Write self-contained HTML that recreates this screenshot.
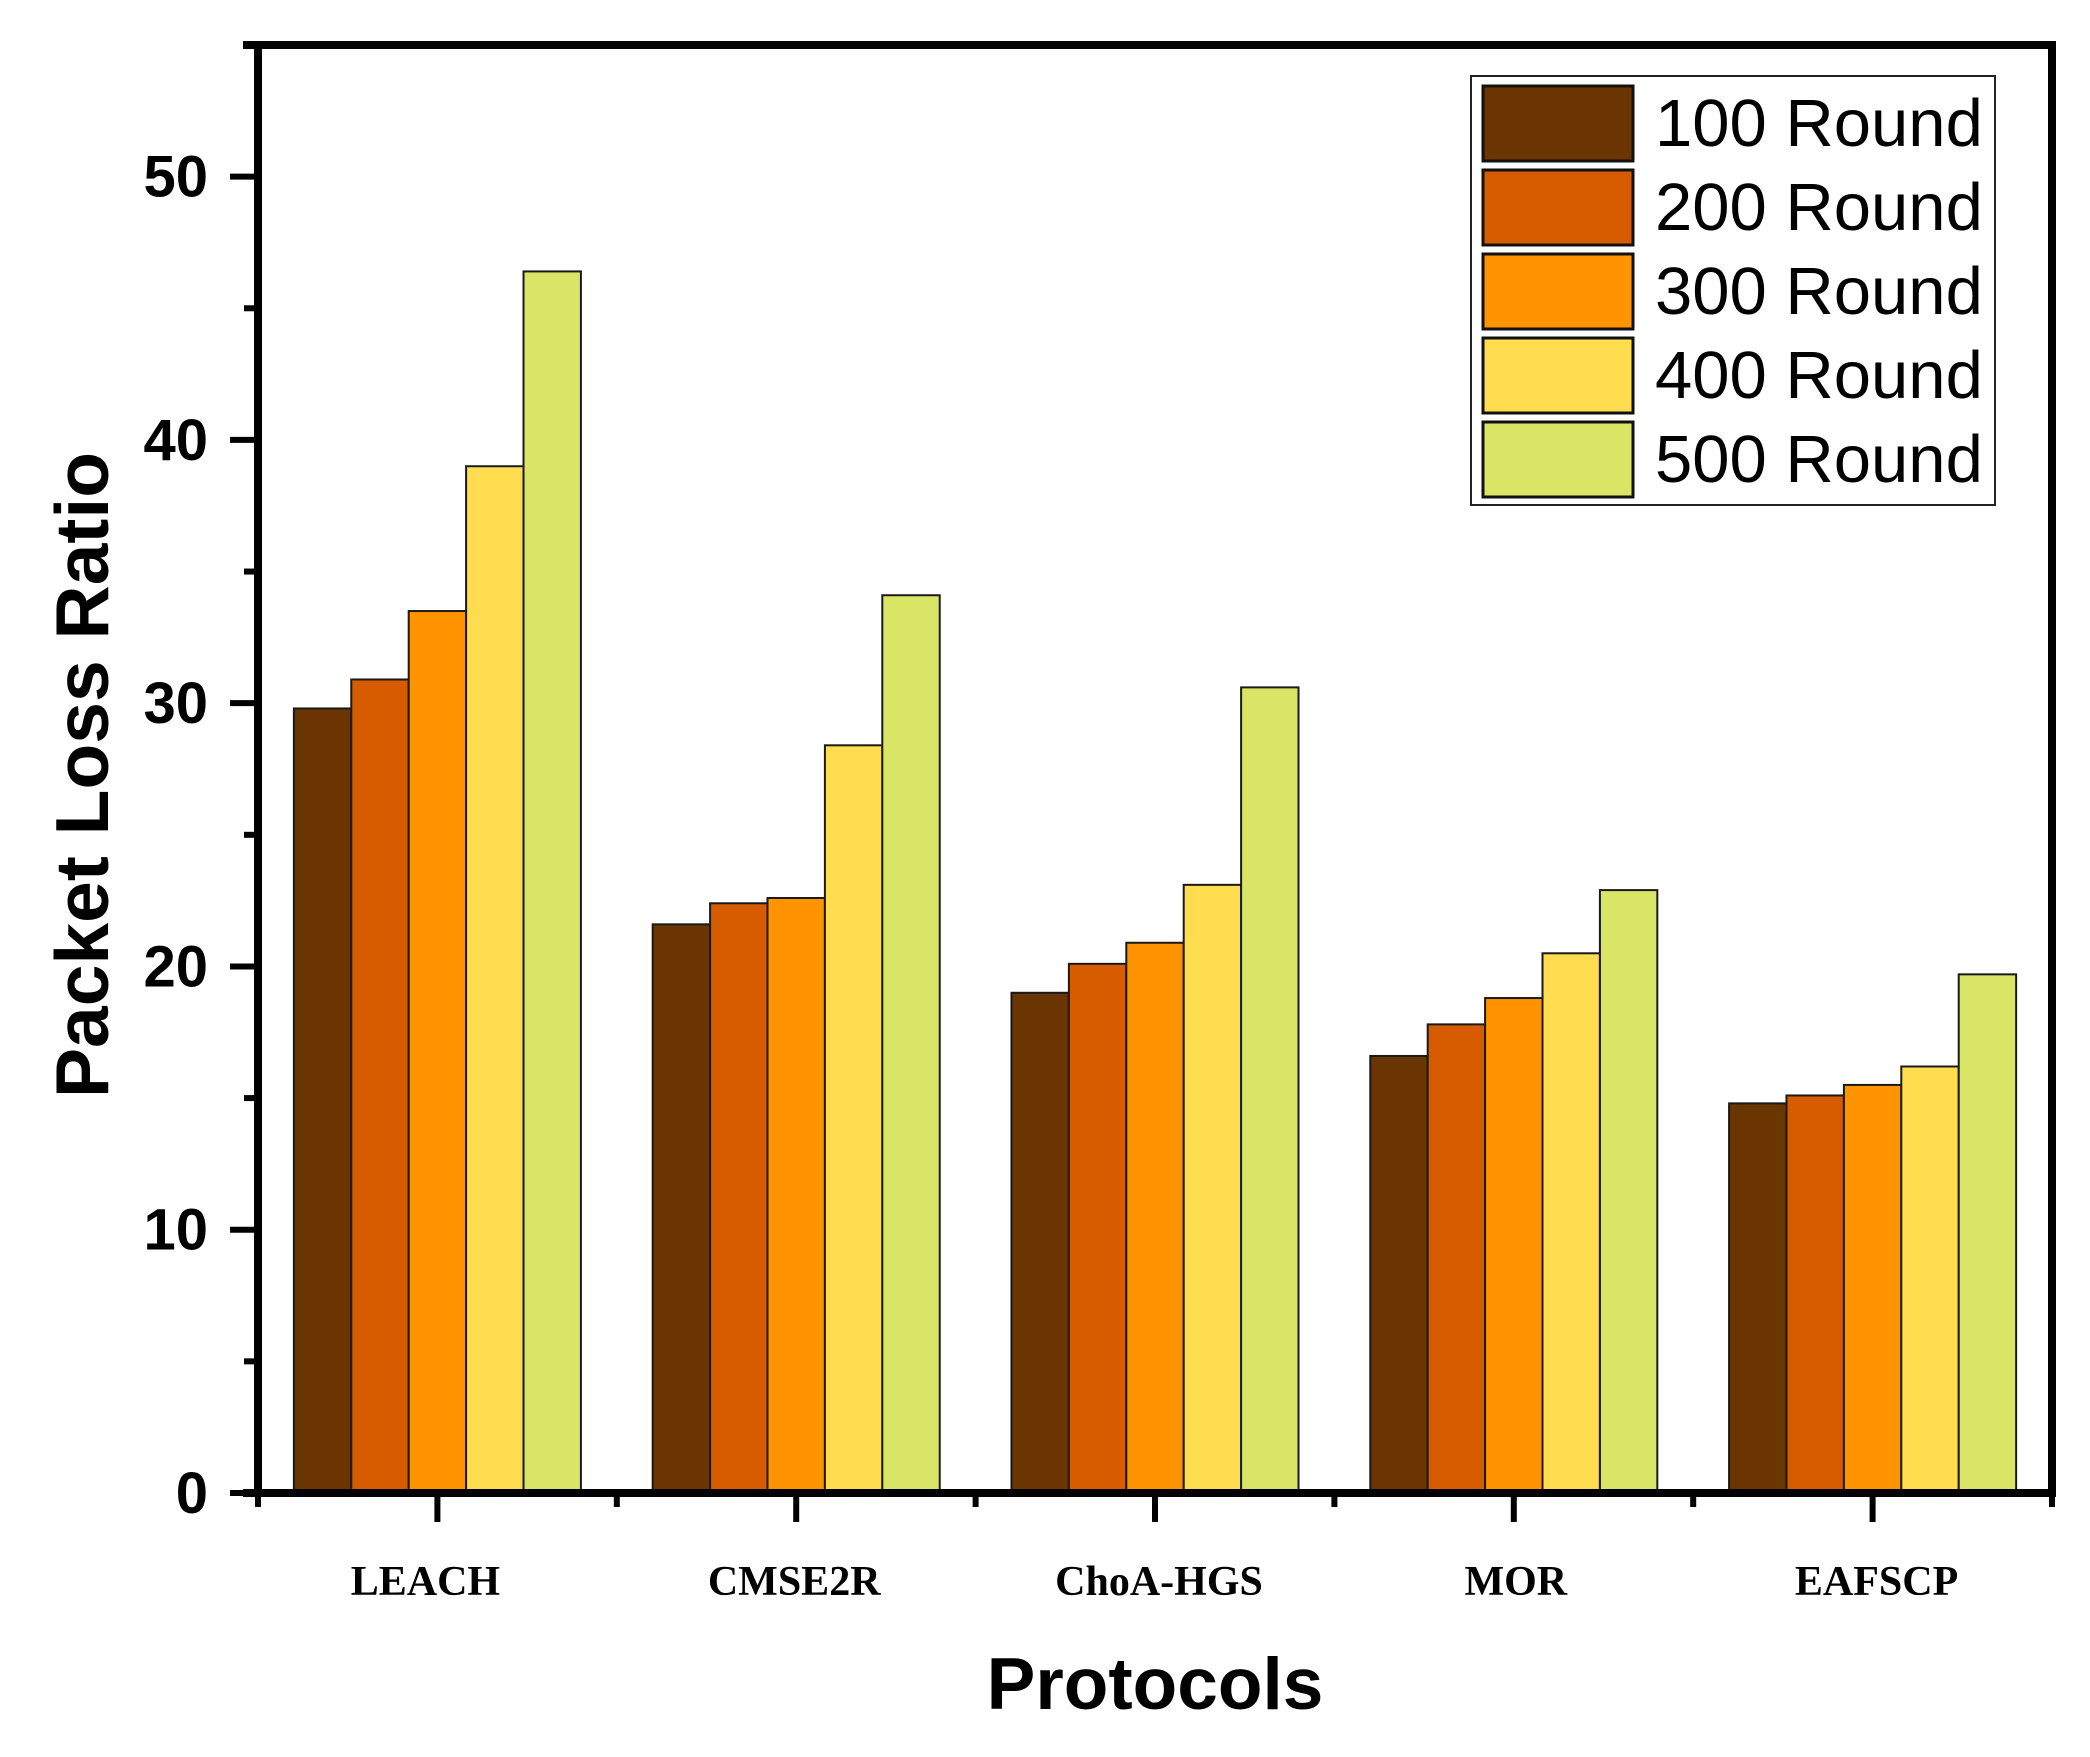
<!DOCTYPE html>
<html><head><meta charset="utf-8"><style>
html,body{margin:0;padding:0;background:#fff;}
svg{display:block;}
</style></head><body>
<svg id="chart" width="2090" height="1757" viewBox="0 0 2090 1757" xmlns="http://www.w3.org/2000/svg">
<rect width="2090" height="1757" fill="#fff"/>
<g id="bars"></g>
<g id="axes"></g>
<text x="0" y="0" transform="translate(108,775) rotate(-90)" text-anchor="middle" font-family="Liberation Sans, sans-serif" font-weight="bold" font-size="75">Packet Loss Ratio</text>
<text x="1155" y="1709" text-anchor="middle" font-family="Liberation Sans, sans-serif" font-weight="bold" font-size="73">Protocols</text>
<g id="legend"></g>
</svg>
<script>
const categories = ["LEACH","CMSE2R","ChoA-HGS","MOR","EAFSCP"];
const seriesNames = ["100 Round","200 Round","300 Round","400 Round","500 Round"];
const s100 = [29.8, 21.6, 19.0, 16.6, 14.8];
const s200 = [30.9, 22.4, 20.1, 17.8, 15.1];
const s300 = [33.5, 22.6, 20.9, 18.8, 15.5];
const s400 = [39.0, 28.4, 23.1, 20.5, 16.2];
const s500 = [46.4, 34.1, 30.6, 22.9, 19.7];
const yTickLabels = ["0","10","20","30","40","50"];
const yTickValues = [0,10,20,30,40,50];

const series = [s100,s200,s300,s400,s500];
const colors = ["#6b3500","#d75c00","#ff9400","#ffdd4f","#d9e665"];
const NS = "http://www.w3.org/2000/svg";
const X0 = 258, X1 = 2052, Y0 = 1493, YTOP = 45, YMAX = 55;
const catW = (X1 - X0) / categories.length;
function xScale(i){ return X0 + (i + 0.5) * catW; }
function yScale(v){ return Y0 - v * (Y0 - YTOP) / YMAX; }
function mk(tag, attrs, parent){ const e = document.createElementNS(NS, tag); for (const k in attrs) e.setAttribute(k, attrs[k]); parent.appendChild(e); return e; }

const barsG = document.getElementById('bars');
const groupW = catW * 0.8, barW = groupW / series.length;
categories.forEach((c, i) => {
  series.forEach((s, j) => {
    const x = xScale(i) - groupW/2 + j*barW;
    const y = yScale(s[i]);
    const r = mk('rect', {x:x, y:y, width:barW, height:Y0 - y, fill:colors[j], stroke:'#1a1a1a', 'stroke-width':2}, barsG);
    
    
  });
});

const ax = document.getElementById('axes');
// frame
const frame = mk('path', {d:`M${X0},${Y0} L${X0},${YTOP} L${X1},${YTOP} L${X1},${Y0}`, fill:'none', stroke:'#000', 'stroke-width':8}, ax);


const xl = mk('line', {x1:X0-15, y1:Y0, x2:X1+4, y2:Y0, stroke:'#000', 'stroke-width':8}, ax);


const tl = mk('line', {x1:X0-15, y1:YTOP, x2:X1+4, y2:YTOP, stroke:'#000', 'stroke-width':8}, ax);


// y ticks
for (let v = 0; v <= 50; v += 5) {
  const major = v % 10 === 0;
  const t = mk('line', {x1: major ? X0-28 : X0-14, y1:yScale(v), x2:X0, y2:yScale(v), stroke:'#000', 'stroke-width':6}, ax);
  
  
}
yTickValues.forEach((v, k) => {
  const t = mk('text', {x:208, y:yScale(v)+20, 'text-anchor':'end', 'font-family':'Liberation Sans, sans-serif', 'font-weight':'bold', 'font-size':58}, ax);
  t.textContent = yTickLabels[k];
  
  
});
// x ticks
for (let i = 0; i <= categories.length; i++) {
  const xm = X0 + i*catW;
  const t = mk('line', {x1:xm, y1:Y0, x2:xm, y2:Y0+14, stroke:'#000', 'stroke-width':6}, ax);
  
  
}
const labelOffsets = [-12, -2, 4, 2, 4];
categories.forEach((c, i) => {
  const t = mk('line', {x1:xScale(i), y1:Y0, x2:xScale(i), y2:Y0+29, stroke:'#000', 'stroke-width':6}, ax);
  
  
  const l = mk('text', {x:xScale(i)+labelOffsets[i], y:1595, 'text-anchor':'middle', 'font-family':'Liberation Serif, serif', 'font-weight':'bold', 'font-size':42}, ax);
  l.textContent = c;
  
  
});
// legend
const lg = document.getElementById('legend');
const lb = mk('rect', {x:1471, y:76, width:524, height:429, fill:'#fff', stroke:'#222', 'stroke-width':2}, lg);


seriesNames.forEach((n, j) => {
  const top = 86 + j*84;
  const sw = mk('rect', {x:1483, y:top, width:150, height:75, fill:colors[j], stroke:'#111', 'stroke-width':3}, lg);
  
  
  const t = mk('text', {x:1655, y:top+60, 'font-family':'Liberation Sans, sans-serif', 'font-size':67}, lg);
  t.textContent = n;
  
  
});
</script>
</body></html>
